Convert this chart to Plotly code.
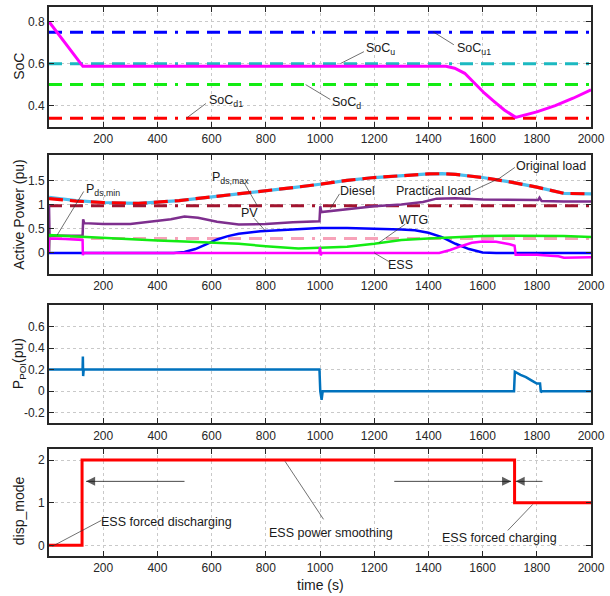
import plotly.graph_objects as go

# ---------------- shared time axis ----------------
time_ticks = list(range(200, 2001, 200))

# ---------------- panel 1: state of charge ----------------
soc_t = [0, 125, 1465, 1497, 1534, 1570, 1607, 1643, 1680, 1722, 1800, 1868, 1934, 2000]
soc_v = [0.80, 0.587, 0.587, 0.578, 0.554, 0.506, 0.459, 0.419, 0.379, 0.344, 0.37, 0.40, 0.435, 0.475]
soc_u1 = 0.75
soc_u = 0.60
soc_d = 0.50
soc_d1 = 0.34

# ---------------- panel 2: active power ----------------
load_t = [0, 100, 200, 330, 480, 660, 780, 900, 1000, 1100, 1200, 1300, 1400, 1450, 1500, 1600, 1700, 1800, 1850, 1900, 2000]
practical_load = [1.16, 1.09, 1.05, 1.03, 1.09, 1.20, 1.28, 1.36, 1.43, 1.51, 1.57, 1.615, 1.645, 1.65, 1.635, 1.57, 1.48, 1.37, 1.30, 1.24, 1.23]
original_load = [1.13, 1.08, 1.05, 1.03, 1.09, 1.20, 1.28, 1.36, 1.43, 1.51, 1.57, 1.615, 1.645, 1.65, 1.635, 1.57, 1.48, 1.37, 1.30, 1.24, 1.23]
p_ds_max = 0.98
p_ds_min = 0.30

diesel_t = [0, 2, 124, 126, 130, 200, 300, 400, 450, 500, 550, 620, 700, 800, 900, 998, 1001, 1005, 1050, 1100, 1200, 1300, 1380, 1430, 1500, 1600, 1700, 1805, 1810, 1818, 1900, 2000]
diesel_v = [1.0, 0.36, 0.36, 0.70, 0.62, 0.60, 0.60, 0.66, 0.70, 0.76, 0.73, 0.65, 0.59, 0.60, 0.64, 0.66, 0.97, 0.85, 0.88, 0.91, 0.97, 1.01, 1.06, 1.13, 1.14, 1.11, 1.10, 1.10, 1.15, 1.08, 1.07, 1.07]

pv_t = [0, 460, 500, 540, 580, 620, 660, 700, 780, 900, 1000, 1100, 1200, 1300, 1350, 1400, 1450, 1500, 1550, 1600, 1650, 2000]
pv_v = [0, 0, 0.02, 0.08, 0.18, 0.28, 0.35, 0.40, 0.45, 0.49, 0.52, 0.52, 0.51, 0.49, 0.47, 0.42, 0.33, 0.19, 0.08, 0.01, 0, 0]

wtg_t = [0, 2, 100, 200, 300, 400, 500, 600, 700, 800, 880, 920, 1000, 1100, 1200, 1250, 1300, 1400, 1500, 1600, 1700, 1800, 1900, 2000]
wtg_v = [0, 0.37, 0.34, 0.31, 0.28, 0.26, 0.24, 0.22, 0.19, 0.14, 0.10, 0.09, 0.11, 0.13, 0.19, 0.23, 0.27, 0.30, 0.33, 0.35, 0.36, 0.36, 0.35, 0.33]

ess_t = [0, 1, 60, 124, 125, 127, 997, 1000, 1003, 1006, 1440, 1480, 1520, 1560, 1600, 1650, 1700, 1718, 1722, 1800, 1850, 1880, 1900, 2000]
ess_v = [0, 0.30, 0.29, 0.27, -0.05, 0.0, 0.0, 0.12, -0.05, 0.0, 0.0, 0.06, 0.14, 0.21, 0.24, 0.23, 0.18, 0.15, -0.04, -0.04, -0.06, -0.07, -0.10, -0.09]

# ---------------- panel 3: power at the point of interconnection ----------------
poi_t = [0, 124, 125, 126, 127, 128, 998, 1001, 1006, 1010, 1716, 1719, 1740, 1760, 1780, 1800, 1812, 1815, 1820, 2000]
poi_v = [0.20, 0.20, 0.32, 0.14, 0.20, 0.20, 0.20, 0.0, -0.08, 0.0, 0.0, 0.18, 0.15, 0.13, 0.10, 0.07, 0.07, -0.01, 0.0, 0.0]

# ---------------- panel 4: dispatch mode ----------------
mode_t = [0, 122, 122, 1718, 1718, 2000]
mode_v = [0, 0, 2, 2, 1, 1]

# ---------------- colours / styles ----------------
C_BLUE = "#0000FF"
C_CYAN = "#1CB9C1"
C_GREEN = "#13EC13"
C_RED = "#FF0000"
C_MAG = "#FF00FF"
C_LBLUE = "#4DBEEE"
C_DRED = "#A2142F"
C_PINK = "#F7A2B9"
C_PURPLE = "#7E2F8E"
C_POI = "#0072BD"
DASHDOT = ",".join(["13px,8px"] * 6 + ["3px,8px"])
DASH = "14px,7px"
INK = "#1a1a1a"

fig = go.Figure()


def hline(xa, ya, val, color, width=3):
    fig.add_trace(go.Scatter(x=[0, 2000], y=[val, val], xaxis=xa, yaxis=ya, mode="lines",
                             line=dict(color=color, width=width, dash=DASHDOT), hoverinfo="skip"))


def curve(xa, ya, t, v, color, width=2.5, dash=None):
    fig.add_trace(go.Scatter(x=t, y=v, xaxis=xa, yaxis=ya, mode="lines",
                             line=dict(color=color, width=width, dash=dash)))


# panel 1
hline("x", "y", soc_u1, C_BLUE)
hline("x", "y", soc_u, C_CYAN)
hline("x", "y", soc_d, C_GREEN)
hline("x", "y", soc_d1, C_RED)
curve("x", "y", soc_t, soc_v, C_MAG, 3)

# panel 2
curve("x2", "y2", load_t, practical_load, C_LBLUE, 3.2)
curve("x2", "y2", load_t, original_load, C_RED, 3.2, DASH)
hline("x2", "y2", p_ds_max, C_DRED, 3)
hline("x2", "y2", p_ds_min, C_PINK, 3)
curve("x2", "y2", diesel_t, diesel_v, C_PURPLE, 2.5)
curve("x2", "y2", pv_t, pv_v, C_BLUE, 2.5)
curve("x2", "y2", wtg_t, wtg_v, C_GREEN, 2.5)
curve("x2", "y2", ess_t, ess_v, C_MAG, 2.5)

# panel 3
curve("x3", "y3", poi_t, poi_v, C_POI, 2.5)

# panel 4
curve("x4", "y4", mode_t, mode_v, C_RED, 3)

# mode-transition arrows (shaft + arrowhead marker at the tip)
for tail_t, tip_t, head in [(500, 137, "arrow-left"), (1274, 1705, "arrow-right"), (1821, 1722, "arrow-left")]:
    fig.add_trace(go.Scatter(x=[tail_t, tip_t], y=[1.5, 1.5], xaxis="x4", yaxis="y4",
                             mode="lines+markers", line=dict(color=INK, width=0.8),
                             marker=dict(symbol=["circle", head], size=[0, 9], color=INK,
                                         line=dict(width=0)),
                             hoverinfo="skip"))

# ---------------- axes ----------------
AX_COL = "#262626"
FONT = "Liberation Sans, Arial, sans-serif"
domains = [[0.7822, 1.0], [0.5136, 0.7296], [0.2414, 0.4574], [0.0, 0.1942]]
yranges = [[0.3, 0.87], [-0.44, 2.03], [-0.3, 0.8], [-0.25, 2.25]]
yticks = [[0.4, 0.6, 0.8], [0, 0.5, 1, 1.5], [-0.2, 0, 0.2, 0.4, 0.6], [0, 1, 2]]
ytext = [["0.4", "0.6", "0.8"], ["0", "0.5", "1", "1.5"], ["-0.2", "0", "0.2", "0.4", "0.6"], ["0", "1", "2"]]

common = dict(showline=True, linecolor=AX_COL, linewidth=2, mirror="ticks", ticks="inside",
              ticklen=5, tickwidth=1.3, tickcolor=AX_COL, showgrid=True, gridcolor="#c9c9c9",
              griddash="dot", gridwidth=1, zeroline=False, ticklabeloverflow="allow",
              tickfont=dict(family=FONT, size=12, color=AX_COL))

layout = dict(width=610, height=596, plot_bgcolor="white", paper_bgcolor="white",
              margin=dict(l=49, r=12, t=5, b=40), showlegend=False,
              font=dict(family=FONT, size=12, color=INK))
for i in range(4):
    xs = "xaxis" if i == 0 else f"xaxis{i + 1}"
    ys = "yaxis" if i == 0 else f"yaxis{i + 1}"
    xn = "x" if i == 0 else f"x{i + 1}"
    yn = "y" if i == 0 else f"y{i + 1}"
    layout[xs] = dict(common, domain=[0, 1], anchor=yn, range=[0, 2000.01],
                      tickvals=time_ticks, ticktext=[str(v) for v in time_ticks])
    layout[ys] = dict(common, domain=domains[i], anchor=xn, range=yranges[i],
                      tickvals=yticks[i], ticktext=ytext[i])
fig.update_layout(**layout)

# ---------------- axis titles ----------------
TITLE_FONT = dict(family=FONT, size=14, color=INK)
ytitles = ["SoC", "Active Power (pu)", "P<sub>POI</sub>(pu)", "disp_mode"]
ycent = [65, 213.5, 363.5, 511]
for title, yc in zip(ytitles, ycent):
    fig.add_annotation(text=title, xref="paper", yref="paper", x=0, y=(556 - yc) / 551,
                       xshift=-30, textangle=-90, showarrow=False, font=TITLE_FONT,
                       xanchor="center", yanchor="middle")
fig.add_annotation(text="time (s)", xref="paper", yref="paper", x=0.5, y=0, yshift=-29,
                   showarrow=False, font=TITLE_FONT, xanchor="center", yanchor="middle")

# ---------------- labels with leader lines ----------------
LBL_FONT = dict(family=FONT, size=12.5, color=INK)


def label(xa, ya, text, tx, ty, tip, tail):
    fig.add_annotation(text=text, xref=xa, yref=ya, x=tx, y=ty, showarrow=False, font=LBL_FONT)
    fig.add_shape(type="line", xref=xa, yref=ya, x0=tip[0], y0=tip[1], x1=tail[0], y1=tail[1],
                  line=dict(color="#333333", width=0.7))


label("x", "y", "SoC<sub>u</sub>", 1224, 0.672, (1075, 0.60), (1162, 0.657))
label("x", "y", "SoC<sub>u1</sub>", 1568, 0.672, (1417, 0.752), (1494, 0.69))
label("x", "y", "SoC<sub>d</sub>", 1097, 0.412, (947, 0.50), (1038, 0.429))
label("x", "y", "SoC<sub>d1</sub>", 652, 0.422, (510, 0.343), (579, 0.41))

label("x2", "y2", "P<sub>ds,min</sub>", 200, 1.32, (30, 0.37), (128, 1.28))
label("x2", "y2", "P<sub>ds,max</sub>", 668, 1.56, (769, 0.98), (720, 1.46))
label("x2", "y2", "PV", 740, 0.83, (799, 0.455), (757, 0.72))
label("x2", "y2", "Diesel", 1140, 1.28, (1038, 0.92), (1072, 1.23))
label("x2", "y2", "Practical load", 1417, 1.29, (1661, 1.55), (1558, 1.28))
label("x2", "y2", "Original load", 1851, 1.82, (1661, 1.55), (1719, 1.78))
label("x2", "y2", "WTG", 1344, 0.68, (1217, 0.21), (1315, 0.60))
label("x2", "y2", "ESS", 1297, -0.25, (1200, 0.0), (1254, -0.18))

label("x4", "y4", "ESS forced discharging", 434, 0.545, (13, -0.02), (193, 0.585))
label("x4", "y4", "ESS power smoothing", 1042, 0.29, (871, 1.97), (1013, 0.61))
label("x4", "y4", "ESS forced charging", 1661, 0.18, (1785, 0.96), (1693, 0.35))

fig.write_html("out.html")
